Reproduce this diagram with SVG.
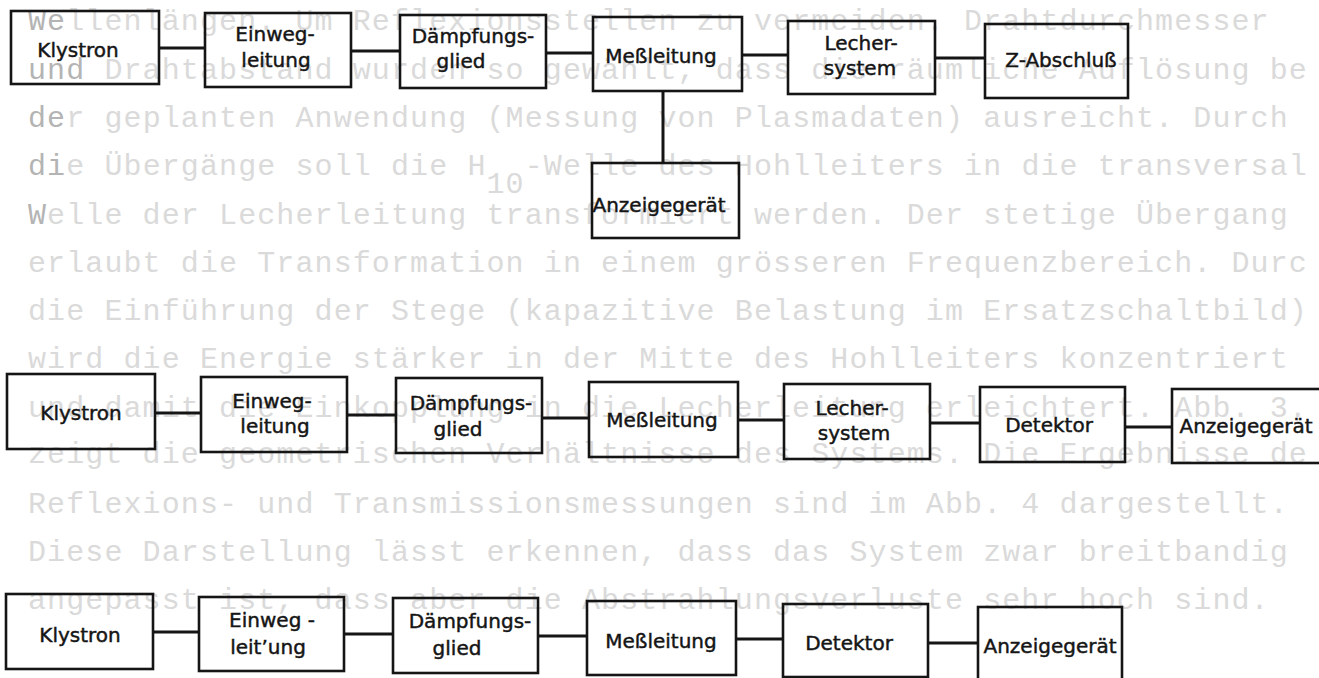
<svg xmlns="http://www.w3.org/2000/svg" width="1319" height="678" viewBox="0 0 1319 678">
<style>
.bg{font-family:"Liberation Mono","DejaVu Sans Mono",monospace;font-size:30px;letter-spacing:1.1px;fill:#dadada}
.dk{fill:#b4b4b4}
.box{fill:none;stroke:#151515;stroke-width:2.6}
.lbl{font-family:"DejaVu Sans","Liberation Sans",sans-serif;font-size:20px;fill:#151515;stroke:#151515;stroke-width:0.45;text-anchor:middle}
.con line{stroke:#151515;stroke-width:3}
</style>
<rect width="1319" height="678" fill="#ffffff"/>
<g id="ghost-text">
<text class="bg" x="28" y="30"><tspan class="dk">We</tspan>llenlängen. Um Reflexionsstellen zu vermeiden. Drahtdurchmesser</text>
<text class="bg" x="28" y="79"><tspan class="dk">und</tspan> Drahtabstand wurden so gewählt, dass die räumliche Auflösung be</text>
<text class="bg" x="28" y="127"><tspan class="dk">de</tspan>r geplanten Anwendung (Messung von Plasmadaten) ausreicht. Durch</text>
<text class="bg" x="28" y="175"><tspan class="dk">di</tspan>e Übergänge soll die H<tspan dy="18">10</tspan><tspan dy="-18">-Welle des Hohlleiters in die transversal</tspan></text>
<text class="bg" x="28" y="224"><tspan class="dk">W</tspan>elle der Lecherleitung transformiert werden. Der stetige Übergang</text>
<text class="bg" x="28" y="272">erlaubt die Transformation in einem grösseren Frequenzbereich. Durc</text>
<text class="bg" x="28" y="320">die Einführung der Stege (kapazitive Belastung im Ersatzschaltbild)</text>
<text class="bg" x="28" y="368">wird die Energie stärker in der Mitte des Hohlleiters konzentriert</text>
<text class="bg" x="28" y="417">und damit die Einkopplung in die Lecherleitung erleichtert. Abb. 3.</text>
<text class="bg" x="28" y="463">zeigt die geometrischen Verhältnisse des Systems. Die Ergebnisse de</text>
<text class="bg" x="28" y="513">Reflexions- und Transmissionsmessungen sind im Abb. 4 dargestellt.</text>
<text class="bg" x="28" y="561">Diese Darstellung lässt erkennen, dass das System zwar breitbandig</text>
<text class="bg" x="28" y="609">angepasst ist, dass aber die Abstrahlungsverluste sehr hoch sind.</text>
</g>
<g id="connectors" class="con">
<line x1="159" y1="48" x2="205" y2="48"/>
<line x1="351" y1="51" x2="400" y2="51"/>
<line x1="546" y1="53" x2="593" y2="53"/>
<line x1="742" y1="55" x2="788" y2="55"/>
<line x1="935" y1="58" x2="985" y2="58"/>
<line x1="663" y1="91" x2="663" y2="163"/>
<line x1="155" y1="413" x2="201" y2="413"/>
<line x1="347" y1="415" x2="396" y2="415"/>
<line x1="542" y1="418" x2="589" y2="418"/>
<line x1="738" y1="420" x2="784" y2="420"/>
<line x1="930" y1="423" x2="980" y2="423"/>
<line x1="1125" y1="427" x2="1172" y2="427"/>
<line x1="153" y1="632" x2="199" y2="632"/>
<line x1="344" y1="634" x2="393" y2="634"/>
<line x1="538" y1="636" x2="587" y2="636"/>
<line x1="736" y1="639" x2="783" y2="639"/>
<line x1="928" y1="643" x2="978" y2="643"/>
</g>
<g id="r1-klystron"><rect class="box" x="11" y="11" width="148" height="73"/><text class="lbl" x="78" y="57">Klystron</text></g>
<g id="r1-einweg"><rect class="box" x="205" y="13" width="146" height="74"/><text class="lbl" x="275" y="41">Einweg-</text><text class="lbl" x="276" y="67">leitung</text></g>
<g id="r1-daempfung"><rect class="box" x="400" y="15" width="146" height="73"/><text class="lbl" x="473" y="43">Dämpfungs-</text><text class="lbl" x="461" y="68">glied</text></g>
<g id="r1-messleitung"><rect class="box" x="593" y="17" width="149" height="74"/><text class="lbl" x="661" y="63">Meßleitung</text></g>
<g id="r1-anzeige"><rect class="box" x="592" y="163" width="147" height="75"/><text class="lbl" x="659" y="212">Anzeigegerät</text></g>
<g id="r1-lecher"><rect class="box" x="788" y="21" width="147" height="73"/><text class="lbl" x="861" y="50">Lecher-</text><text class="lbl" x="860" y="75">system</text></g>
<g id="r1-zabschluss"><rect class="box" x="985" y="24" width="143" height="74"/><text class="lbl" x="1061" y="67">Z-Abschluß</text></g>
<g id="r2-klystron"><rect class="box" x="7" y="374" width="148" height="75"/><text class="lbl" x="81" y="420">Klystron</text></g>
<g id="r2-einweg"><rect class="box" x="201" y="377" width="146" height="75"/><text class="lbl" x="272" y="408">Einweg-</text><text class="lbl" x="275" y="433">leitung</text></g>
<g id="r2-daempfung"><rect class="box" x="396" y="378" width="146" height="75"/><text class="lbl" x="471" y="410">Dämpfungs-</text><text class="lbl" x="458" y="436">glied</text></g>
<g id="r2-messleitung"><rect class="box" x="589" y="382" width="149" height="75"/><text class="lbl" x="662" y="427">Meßleitung</text></g>
<g id="r2-lecher"><rect class="box" x="784" y="384" width="146" height="75"/><text class="lbl" x="852" y="415">Lecher-</text><text class="lbl" x="854" y="440">system</text></g>
<g id="r2-detektor"><rect class="box" x="980" y="387" width="145" height="75"/><text class="lbl" x="1049" y="432">Detektor</text></g>
<g id="r2-anzeige"><rect class="box" x="1172" y="389" width="153" height="74"/><text class="lbl" x="1246" y="433">Anzeigegerät</text></g>
<g id="r3-klystron"><rect class="box" x="6" y="594" width="147" height="75"/><text class="lbl" x="80" y="642">Klystron</text></g>
<g id="r3-einweg"><rect class="box" x="199" y="597" width="145" height="74"/><text class="lbl" x="272" y="627">Einweg -</text><text class="lbl" x="268" y="654">leit’ung</text></g>
<g id="r3-daempfung"><rect class="box" x="393" y="598" width="145" height="75"/><text class="lbl" x="470" y="628">Dämpfungs-</text><text class="lbl" x="457" y="655">glied</text></g>
<g id="r3-messleitung"><rect class="box" x="587" y="601" width="149" height="74"/><text class="lbl" x="661" y="648">Meßleitung</text></g>
<g id="r3-detektor"><rect class="box" x="783" y="604" width="145" height="73"/><text class="lbl" x="849" y="650">Detektor</text></g>
<g id="r3-anzeige"><rect class="box" x="978" y="607" width="144" height="80"/><text class="lbl" x="1050" y="653">Anzeigegerät</text></g>
</svg>
